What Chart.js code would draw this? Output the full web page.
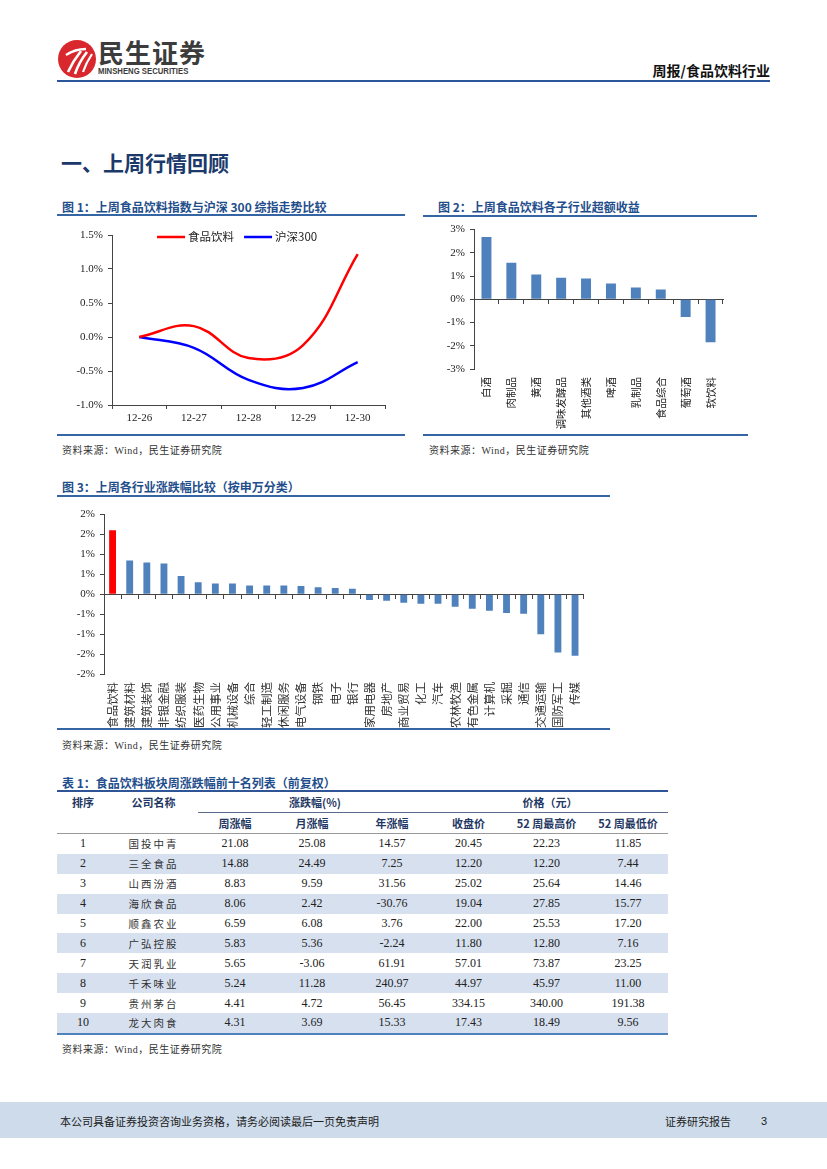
<!DOCTYPE html>
<html lang="zh-CN">
<head>
<meta charset="utf-8">
<title>周报/食品饮料行业</title>
<script src="https://cdn.jsdelivr.net/npm/chart.js@4.4.1/dist/chart.umd.min.js"></script>
<style>
html, body { margin: 0; padding: 0; background: #fff; }
body { width: 827px; height: 1169px; position: relative; overflow: hidden; font-family: "Noto Sans CJK SC", sans-serif; color: #222; }
.abs { position: absolute; }
.line { position: absolute; background: #3566a3; }
.figtitle { position: absolute; font-size: 12px; font-weight: 700; color: #1f4e8c; white-space: nowrap; line-height: 14px; }
.source { position: absolute; font-size: 10px; color: #333; white-space: nowrap; line-height: 12px; font-family: "Liberation Serif", "Noto Sans CJK SC", serif; letter-spacing: 0.5px; }
canvas { position: absolute; }
table.tbl { position: absolute; border-collapse: collapse; table-layout: fixed; border-top: 2px solid #2f5597; border-bottom: 2px solid #4f81bd; }
table.tbl th { font-size: 11px; font-weight: 700; color: #1f3864; padding: 0; text-align: center; }
table.tbl tr.h1 th { height: 20px; vertical-align: middle; }
table.tbl tr.h1 th.grp { border-bottom: 1px solid #5a6e8c; }
table.tbl tr.h2 th { height: 20px; border-bottom: 1px solid #9a9a9a; }
table.tbl td { height: 19.9px; padding: 0; text-align: center; font-family: "Liberation Serif", serif; font-size: 12px; color: #222; }
table.tbl td.name { font-family: "Noto Sans CJK SC", sans-serif; font-size: 10.5px; letter-spacing: 2px; color: #333; }
table.tbl tr.alt td { background: #d6e0ef; }
</style>
</head>
<body>

<!-- header -->
<svg class="abs" style="left:57px;top:39px" width="40" height="40" viewBox="0 0 40 40">
  <circle cx="20" cy="20" r="19" fill="#d9272e"/>
  <path d="M9 16 Q18 10 29 10" stroke="#fff" stroke-width="2.4" fill="none"/>
  <path d="M24 12 Q16 22 11 33" stroke="#fff" stroke-width="2.6" fill="none"/>
  <path d="M30 13 Q22 23 18 35" stroke="#fff" stroke-width="2.6" fill="none"/>
  <path d="M35 15 Q29 24 26 33" stroke="#fff" stroke-width="2.2" fill="none"/>
</svg>
<div class="abs" style="left:98px;top:37px;font-size:26px;font-weight:700;color:#3c3c3c;line-height:30px;letter-spacing:1px;">民生证券</div>
<div class="abs" style="left:98px;top:66px;font-size:9px;font-weight:700;color:#3c3c3c;line-height:10px;font-family:'Liberation Sans',Arial,sans-serif;transform:scaleX(0.86);transform-origin:left;">MINSHENG SECURITIES</div>
<div class="abs" style="right:57px;top:61px;font-size:14px;font-weight:700;color:#111;line-height:18px;">周报/食品饮料行业</div>
<div class="line" style="left:57px;top:80px;width:713px;height:2px;background:#2b579a;"></div>

<div class="abs" style="left:61px;top:148px;font-size:21px;font-weight:700;color:#1b3a6b;line-height:28px;">一、上周行情回顾</div>

<!-- figure 1 -->
<div class="figtitle" style="left:62px;top:200px;">图 1：上周食品饮料指数与沪深 300 综指走势比较</div>
<div class="line" style="left:57px;top:214px;width:348px;height:2px;"></div>
<canvas id="fig1" width="335" height="212" style="left:57px;top:222px;"></canvas>
<div class="line" style="left:57px;top:434px;width:348px;height:1.5px;"></div>
<div class="source" style="left:62px;top:445px;">资料来源：Wind，民生证券研究院</div>

<!-- figure 2 -->
<div class="figtitle" style="left:438px;top:200px;">图 2：上周食品饮料各子行业超额收益</div>
<div class="line" style="left:423px;top:215px;width:334px;height:2px;"></div>
<canvas id="fig2" width="312" height="214" style="left:424px;top:218px;"></canvas>
<div class="line" style="left:423px;top:434px;width:325px;height:1.5px;"></div>
<div class="source" style="left:429px;top:445px;">资料来源：Wind，民生证券研究院</div>

<!-- figure 3 -->
<div class="figtitle" style="left:62px;top:480px;">图 3：上周各行业涨跌幅比较（按申万分类）</div>
<div class="line" style="left:57px;top:495px;width:553px;height:2px;"></div>
<canvas id="fig3" width="540" height="226" style="left:57px;top:503px;"></canvas>
<div class="line" style="left:57px;top:728px;width:553px;height:1.5px;"></div>
<div class="source" style="left:62px;top:740px;">资料来源：Wind，民生证券研究院</div>

<!-- table 1 -->
<div class="figtitle" style="left:62px;top:776px;">表 1：食品饮料板块周涨跌幅前十名列表（前复权）</div>
<table class="tbl" id="tbl" style="left:57px;top:790px;width:611px;">
  <colgroup>
    <col style="width:52px"><col style="width:89px"><col style="width:74px"><col style="width:80px">
    <col style="width:80px"><col style="width:73px"><col style="width:83px"><col style="width:80px">
  </colgroup>
  <tr class="h1"><th>排序</th><th>公司名称</th><th colspan="3" class="grp">涨跌幅(%)</th><th colspan="3" class="grp">价格（元）</th></tr>
  <tr class="h2"><th></th><th></th><th>周涨幅</th><th>月涨幅</th><th>年涨幅</th><th>收盘价</th><th>52 周最高价</th><th>52 周最低价</th></tr>
</table>
<div class="source" style="left:62px;top:1044px;">资料来源：Wind，民生证券研究院</div>

<!-- footer -->
<div class="abs" style="left:0;top:1102px;width:827px;height:36px;background:#cddbea;"></div>
<div class="abs" style="left:60px;top:1113px;font-size:11px;color:#222;line-height:16px;">本公司具备证券投资咨询业务资格，请务必阅读最后一页免责声明</div>
<div class="abs" style="left:665px;top:1113px;font-size:11px;color:#222;line-height:16px;">证券研究报告</div>
<div class="abs" style="left:761px;top:1113px;font-size:11px;color:#222;line-height:16px;font-family:'Liberation Sans',sans-serif;">3</div>

<script>
// 图1 走势
const fig1Dates = ['12-26', '12-27', '12-28', '12-29', '12-30'];
const fig1Food = [0.00, 0.16, -0.31, -0.12, 1.22];
const fig1Hs300 = [0.00, -0.16, -0.63, -0.75, -0.37];

// 图2 子行业超额收益
const fig2Cats = ['白酒', '肉制品', '黄酒', '调味发酵品', '其他酒类', '啤酒', '乳制品', '食品综合', '葡萄酒', '软饮料'];
const fig2Vals = [2.68, 1.57, 1.07, 0.93, 0.90, 0.68, 0.51, 0.42, -0.76, -1.85];

// 图3 申万行业涨跌幅
const fig3Cats = ['食品饮料', '建筑材料', '建筑装饰', '非银金融', '纺织服装', '医药生物', '公用事业', '机械设备',
  '综合', '轻工制造', '休闲服务', '电气设备', '钢铁', '电子', '银行', '家用电器', '房地产', '商业贸易',
  '化工', '汽车', '农林牧渔', '有色金属', '计算机', '采掘', '通信', '交通运输', '国防军工', '传媒'];
const fig3Vals = [1.61, 0.85, 0.80, 0.77, 0.46, 0.30, 0.27, 0.27, 0.22, 0.22, 0.22, 0.21, 0.18, 0.16, 0.14,
  -0.14, -0.16, -0.21, -0.24, -0.24, -0.31, -0.36, -0.41, -0.47, -0.49, -1.00, -1.46, -1.54];
const fig3TickLabels = ['-2%', '-2%', '-1%', '-1%', '0%', '1%', '1%', '2%', '2%'];

// 表1
const tblRank = ['1', '2', '3', '4', '5', '6', '7', '8', '9', '10'];
const tblName = ['国投中青', '三全食品', '山西汾酒', '海欣食品', '顺鑫农业', '广弘控股', '天润乳业', '千禾味业', '贵州茅台', '龙大肉食'];
const tblWeek = ['21.08', '14.88', '8.83', '8.06', '6.59', '5.83', '5.65', '5.24', '4.41', '4.31'];
const tblMonth = ['25.08', '24.49', '9.59', '2.42', '6.08', '5.36', '-3.06', '11.28', '4.72', '3.69'];
const tblYear = ['14.57', '7.25', '31.56', '-30.76', '3.76', '-2.24', '61.91', '240.97', '56.45', '15.33'];
const tblClose = ['20.45', '12.20', '25.02', '19.04', '22.00', '11.80', '57.01', '44.97', '334.15', '17.43'];
const tblHigh = ['22.23', '12.20', '25.64', '27.85', '25.53', '12.80', '73.87', '45.97', '340.00', '18.49'];
const tblLow = ['11.85', '7.44', '14.46', '15.77', '17.20', '7.16', '23.25', '11.00', '191.38', '9.56'];

const serif = "'Liberation Serif', 'Times New Roman', serif";
const cjk = "'Noto Sans CJK SC', sans-serif";
const axisColor = '#444';
const barBlue = '#4f81bd';
const barRed = '#ff0000';

Chart.defaults.font.family = serif;
Chart.defaults.color = '#222';
Chart.defaults.animation = false;

// legend drawn inside the plot, like the original
const insideLegend = {
    id: 'insideLegend',
    afterDraw(chart) {
        const ctx = chart.ctx;
        const area = chart.chartArea;
        let x = area.left + area.width * 0.165;
        const y = area.top + 2;
        ctx.save();
        ctx.font = "11.5px 'Noto Sans CJK SC'";
        ctx.textBaseline = 'middle';
        chart.data.datasets.forEach(ds => {
            ctx.strokeStyle = ds.borderColor;
            ctx.lineWidth = ds.borderWidth;
            ctx.beginPath();
            ctx.moveTo(x, y);
            ctx.lineTo(x + 28, y);
            ctx.stroke();
            x += 31;
            ctx.fillStyle = '#222';
            ctx.fillText(ds.label, x, y);
            x += ctx.measureText(ds.label).width + 10;
        });
        ctx.restore();
    }
};

const yGrid = { drawOnChartArea: false, tickLength: 4, color: axisColor };

new Chart(document.getElementById('fig1'), {
    type: 'line',
    data: {
        labels: fig1Dates,
        datasets: [{
            label: '食品饮料',
            data: fig1Food,
            borderColor: '#ff0000',
            borderWidth: 2.5,
            pointRadius: 0,
            tension: 0.4
        }, {
            label: '沪深300',
            data: fig1Hs300,
            borderColor: '#0000ff',
            borderWidth: 2.5,
            pointRadius: 0,
            tension: 0.4
        }]
    },
    options: {
        responsive: false,
        layout: { padding: { top: 13, right: 7 } },
        plugins: { legend: { display: false }, tooltip: { enabled: false } },
        scales: {
            x: {
                offset: true,
                grid: { offset: true, drawOnChartArea: false, tickLength: 4, color: axisColor },
                border: { color: axisColor },
                ticks: { padding: 3, font: { size: 11 } },
                afterFit: s => { s.height = 29; }
            },
            y: {
                min: -1, max: 1.5,
                ticks: { stepSize: 0.5, padding: 5, font: { size: 11 }, callback: v => v.toFixed(1) + '%' },
                grid: yGrid,
                border: { color: axisColor },
                afterFit: s => { s.width = 55; }
            }
        }
    },
    plugins: [insideLegend]
});

new Chart(document.getElementById('fig2'), {
    type: 'bar',
    data: {
        labels: fig2Cats,
        datasets: [{ data: fig2Vals, backgroundColor: barBlue, barPercentage: 0.4, categoryPercentage: 1 }]
    },
    options: {
        responsive: false,
        layout: { padding: { top: 7, right: 13 } },
        plugins: { legend: { display: false }, tooltip: { enabled: false } },
        scales: {
            x: {
                grid: { display: false, drawTicks: false },
                border: { display: false },
                ticks: { autoSkip: false, minRotation: 90, maxRotation: 90, padding: 8, color: '#222', font: { family: cjk, size: 10.5 } },
                afterFit: s => { s.height = 63; }
            },
            x0: {
                type: 'category',
                position: { y: 0 },
                offset: true,
                grid: { offset: true, drawOnChartArea: false, tickLength: 4, color: axisColor },
                border: { color: axisColor },
                ticks: { display: false }
            },
            y: {
                min: -3, max: 3,
                ticks: { stepSize: 1, padding: 5, font: { size: 11 }, callback: v => v + '%' },
                grid: yGrid,
                border: { color: axisColor },
                afterFit: s => { s.width = 50; }
            }
        }
    }
});

new Chart(document.getElementById('fig3'), {
    type: 'bar',
    data: {
        labels: fig3Cats,
        datasets: [{
            data: fig3Vals,
            backgroundColor: fig3Cats.map(c => c === '食品饮料' ? barRed : barBlue),
            barPercentage: 0.4,
            categoryPercentage: 1
        }]
    },
    options: {
        responsive: false,
        layout: { padding: { top: 11, right: 9 } },
        plugins: { legend: { display: false }, tooltip: { enabled: false } },
        scales: {
            x: {
                grid: { display: false, drawTicks: false },
                border: { display: false },
                ticks: { autoSkip: false, minRotation: 90, maxRotation: 90, padding: 8, color: '#333', font: { family: cjk, size: 11.5 } },
                afterFit: s => { s.height = 55; }
            },
            x0: {
                type: 'category',
                position: { y: 0 },
                offset: true,
                grid: { offset: true, drawOnChartArea: false, tickLength: 4, color: axisColor },
                border: { color: axisColor },
                ticks: { display: false }
            },
            y: {
                min: -2, max: 2,
                ticks: { stepSize: 0.5, padding: 5, font: { size: 11 }, callback: (v, i) => fig3TickLabels[i] },
                grid: yGrid,
                border: { color: axisColor },
                afterFit: s => { s.width = 47; }
            }
        }
    }
});

// table rows
const tbl = document.getElementById('tbl');
tblRank.forEach((r, i) => {
    const tr = document.createElement('tr');
    if (i % 2 === 1) tr.className = 'alt';
    const cells = [r, tblName[i], tblWeek[i], tblMonth[i], tblYear[i], tblClose[i], tblHigh[i], tblLow[i]];
    cells.forEach((c, j) => {
        const td = document.createElement('td');
        td.textContent = c;
        if (j === 1) td.className = 'name';
        tr.appendChild(td);
    });
    tbl.appendChild(tr);
});
</script>
</body>
</html>
